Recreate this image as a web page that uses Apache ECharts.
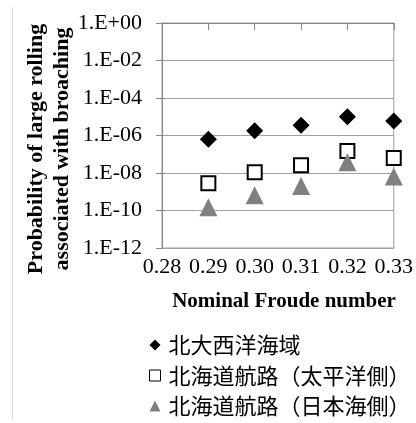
<!DOCTYPE html>
<html>
<head>
<meta charset="utf-8">
<script src="https://cdn.jsdelivr.net/npm/echarts@6/dist/echarts.min.js"></script>
<style>
  html, body { margin: 0; padding: 0; background: #fff; }
  #chart { width: 416px; height: 423px; }
</style>
</head>
<body>
<div id="chart"></div>
<script>
// Nominal Froude number for each run
const froude = [0.29, 0.30, 0.31, 0.32, 0.33];

// Probability of large rolling associated with broaching, per sea area
const northAtlantic = [6.3e-7, 1.8e-6, 3.5e-6, 1.0e-5, 6.0e-6];
const hokkaidoPacific = [2.8e-9, 1.1e-8, 2.6e-8, 1.5e-7, 6.3e-8];
const hokkaidoJapanSea = [1.5e-10, 6.6e-10, 2.0e-9, 3.8e-8, 6.5e-9];

const seriesNames = ['北大西洋海域', '北海道航路（太平洋側）', '北海道航路（日本海側）'];

// Tick labels
const xTickLabels = ['0.28', '0.29', '0.30', '0.31', '0.32', '0.33'];
const yTickExponents = [-12, -10, -8, -6, -4, -2, 0];
const yTickLabels = ['1.E-12', '1.E-10', '1.E-08', '1.E-06', '1.E-04', '1.E-02', '1.E+00'];

const serif = '"Liberation Serif", "Times New Roman", serif';
const cjk = '"Noto Sans CJK JP", "Noto Sans", sans-serif';

function pairs(values) {
  return froude.map((f, i) => [f, values[i]]);
}

function yLabel(v) {
  const e = Math.round(Math.log10(v));
  const idx = yTickExponents.indexOf(e);
  return idx >= 0 ? yTickLabels[idx] : '';
}

function xLabel(v) {
  const idx = Math.round((v - 0.28) * 100);
  return xTickLabels[idx] !== undefined ? xTickLabels[idx] : '';
}

const chart = echarts.init(document.getElementById('chart'), null, { renderer: 'canvas' });

const xBase = { type: 'value', min: 0.28, max: 0.33, interval: 0.01, splitLine: { show: false } };

chart.setOption({
  animation: false,
  backgroundColor: '#fff',
  grid: {
    left: 162, top: 23, width: 236, height: 225,
    show: true, borderColor: '#9a9a9a', borderWidth: 1
  },
  xAxis: [
    Object.assign({}, xBase, {
      position: 'bottom',
      axisLine: { show: false },
      axisTick: { show: false },
      axisLabel: {
        margin: 8, color: '#000', fontFamily: serif, fontSize: 22,
        formatter: xLabel
      }
    }),
    Object.assign({}, xBase, {
      position: 'top',
      axisLine: { show: true, lineStyle: { color: '#868686', width: 1 } },
      axisTick: { show: true, inside: true, length: 7, lineStyle: { color: '#868686' } },
      axisLabel: { show: false }
    })
  ],
  yAxis: {
    type: 'log', logBase: 10, min: 1e-12, max: 1, interval: 2,
    axisLine: { show: true, lineStyle: { color: '#868686', width: 1 } },
    axisTick: { show: true, inside: false, length: 6, lineStyle: { color: '#868686' } },
    splitLine: { show: true, lineStyle: { color: '#a0a0a0', width: 1 } },
    minorTick: { show: false },
    axisLabel: {
      margin: 20, color: '#000', fontFamily: serif, fontSize: 22,
      formatter: yLabel
    }
  },
  legend: {
    orient: 'vertical',
    left: 149, top: 334,
    padding: 0,
    itemWidth: 11, itemHeight: 11,
    itemGap: 8.5,
    textStyle: { fontFamily: cjk, fontSize: 22, color: '#000', lineHeight: 22, padding: [0, 0, 0, 3] },
    data: [
      { name: seriesNames[0], icon: 'diamond' },
      { name: seriesNames[1], icon: 'rect', itemStyle: { borderWidth: 1, borderColor: '#000', color: '#fff' } },
      { name: seriesNames[2], icon: 'triangle' }
    ]
  },
  series: [
    {
      name: seriesNames[0], type: 'scatter', xAxisIndex: 0,
      symbol: 'diamond', symbolSize: 17,
      itemStyle: { color: '#000', opacity: 1 },
      data: pairs(northAtlantic)
    },
    {
      name: seriesNames[1], type: 'scatter', xAxisIndex: 0,
      symbol: 'rect', symbolSize: 14,
      itemStyle: { color: '#fff', borderColor: '#000', borderWidth: 2, opacity: 1 },
      data: pairs(hokkaidoPacific)
    },
    {
      name: seriesNames[2], type: 'scatter', xAxisIndex: 0,
      symbol: 'triangle', symbolSize: 18,
      itemStyle: { color: '#808080', opacity: 1 },
      data: pairs(hokkaidoJapanSea)
    }
  ],
  graphic: [
    // thin frame edge on the left of the chart area
    {
      type: 'line', silent: true,
      shape: { x1: 12.5, y1: 7, x2: 12.5, y2: 420 },
      style: { stroke: '#d9d9d9', lineWidth: 1 }
    },
    // y-axis title
    {
      type: 'text', silent: true,
      x: 49, y: 149, rotation: Math.PI / 2,
      style: {
        text: 'Probability of large rolling\nassociated with broaching',
        font: 'bold 22px ' + serif,
        fill: '#000', align: 'center', verticalAlign: 'middle', lineHeight: 26
      }
    },
    // x-axis title
    {
      type: 'text', silent: true,
      x: 284, y: 302,
      style: {
        text: 'Nominal Froude number',
        font: 'bold 21px ' + serif,
        fill: '#000', align: 'center', verticalAlign: 'middle'
      }
    }
  ]
});
</script>
</body>
</html>
